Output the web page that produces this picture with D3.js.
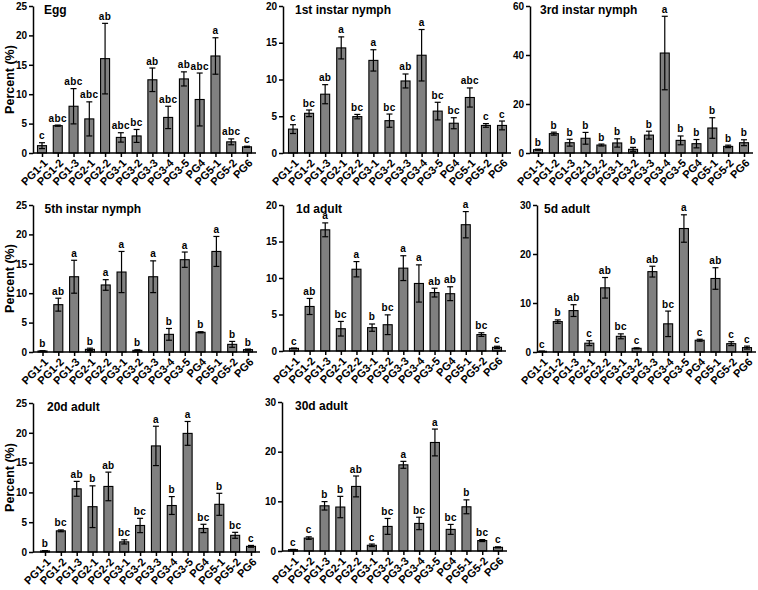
<!DOCTYPE html>
<html>
<head>
<meta charset="utf-8">
<script src="https://cdn.jsdelivr.net/npm/d3@7"></script>
<style>
  html, body { margin: 0; padding: 0; background: #fff; }
  svg { display: block; font-family: "Liberation Sans", Arial, sans-serif; font-weight: bold; }
</style>
</head>
<body>
<svg id="chart" width="758" height="590"></svg>
<script>
const categories = ["PG1-1","PG1-2","PG1-3","PG2-1","PG2-2","PG3-1","PG3-2","PG3-3","PG3-4","PG3-5","PG4","PG5-1","PG5-2","PG6"];

const eggValues  = [1.25, 4.65, 7.95, 5.8, 16.05, 2.65, 2.9, 12.45, 6.05, 12.6, 9.1, 16.5, 1.9, 1.05];
const eggErrors  = [0.5, 0.1, 3.0, 2.9, 6.0, 0.8, 1.1, 2.0, 1.9, 1.2, 4.5, 3.1, 0.5, 0.1];
const eggLetters = ["c","abc","abc","abc","ab","abc","bc","ab","abc","ab","abc","a","abc","c"];

const n1Values  = [3.25, 5.4, 8.0, 14.3, 4.95, 12.6, 4.4, 9.8, 13.3, 5.7, 4.05, 7.55, 3.75, 3.75];
const n1Errors  = [0.6, 0.45, 1.3, 1.5, 0.3, 1.45, 0.9, 0.95, 3.5, 1.2, 0.75, 1.3, 0.25, 0.6];
const n1Letters = ["c","bc","ab","a","bc","a","bc","ab","a","bc","bc","abc","c","c"];

const n3Values  = [1.35, 7.9, 4.2, 6.0, 3.25, 4.1, 1.5, 7.3, 40.8, 5.15, 3.8, 10.2, 2.7, 4.2];
const n3Errors  = [0.2, 0.6, 1.4, 2.4, 0.4, 1.7, 0.8, 1.6, 15.0, 1.8, 1.7, 4.2, 0.5, 1.2];
const n3Letters = ["b","b","b","b","b","b","b","b","a","b","b","b","b","b"];

const n5Values  = [0.17, 8.05, 12.8, 0.45, 11.4, 13.6, 0.28, 12.8, 3.0, 15.7, 3.35, 17.1, 1.3, 0.4];
const n5Errors  = [0.05, 1.1, 2.8, 0.2, 0.9, 3.5, 0.1, 2.7, 1.0, 1.3, 0.1, 2.55, 0.5, 0.1];
const n5Letters = ["b","ab","a","b","a","a","b","a","b","a","b","a","b","b"];

const a1Values  = [0.36, 6.1, 16.6, 3.05, 11.2, 3.2, 3.6, 11.35, 9.25, 8.0, 7.85, 17.3, 2.25, 0.5];
const a1Errors  = [0.05, 1.1, 0.95, 1.0, 1.05, 0.5, 1.35, 1.7, 2.55, 0.6, 0.95, 1.8, 0.25, 0.15];
const a1Letters = ["c","ab","a","bc","a","b","bc","a","a","ab","ab","a","bc","c"];

const a5Values  = [0.14, 6.2, 8.45, 1.8, 13.1, 3.2, 0.75, 16.4, 5.75, 25.2, 2.4, 15.0, 1.7, 0.9];
const a5Errors  = [0.05, 0.35, 1.2, 0.5, 2.1, 0.5, 0.1, 1.1, 2.6, 2.8, 0.2, 2.2, 0.4, 0.3];
const a5Letters = ["c","b","ab","c","ab","bc","c","ab","bc","a","c","ab","c","c"];

const a20Values  = [0.17, 3.55, 10.6, 7.6, 11.0, 1.7, 4.45, 17.8, 7.8, 19.9, 3.95, 8.0, 2.8, 0.95];
const a20Errors  = [0.05, 0.15, 1.25, 3.5, 2.4, 0.35, 1.2, 3.3, 1.5, 2.0, 0.7, 1.85, 0.5, 0.15];
const a20Letters = ["b","bc","ab","b","ab","bc","bc","a","b","a","bc","b","bc","c"];

const a30Values  = [0.27, 2.6, 9.1, 8.85, 13.0, 1.15, 4.95, 17.35, 5.55, 21.85, 4.35, 8.9, 2.1, 0.74];
const a30Errors  = [0.05, 0.25, 0.85, 2.15, 2.1, 0.25, 1.6, 0.7, 1.25, 2.7, 1.0, 1.4, 0.2, 0.1];
const a30Letters = ["c","c","b","b","ab","c","bc","a","bc","a","bc","b","bc","c"];

const panelTitles = ["Egg","1st instar nymph","3rd instar nymph","5th instar nymph","1d adult","5d adult","20d adult","30d adult"];
const yTicks = [
  [0,5,10,15,20,25],
  [0,5,10,15,20],
  [0,20,40,60],
  [0,5,10,15,20,25],
  [0,5,10,15,20],
  [0,10,20,30],
  [0,5,10,15,20,25],
  [0,10,20,30]
];
const yLabel = "Percent (%)";

const seriesValues  = [eggValues, n1Values, n3Values, n5Values, a1Values, a5Values, a20Values, a30Values];
const seriesErrors  = [eggErrors, n1Errors, n3Errors, n5Errors, a1Errors, a5Errors, a20Errors, a30Errors];
const seriesLetters = [eggLetters, n1Letters, n3Letters, n5Letters, a1Letters, a5Letters, a20Letters, a30Letters];

// layout: [axisLeft, firstCenter, lastCenter, top, bottom]
const layout = [
  [33, 42, 247, 6, 153],
  [283, 293, 502, 6, 153],
  [530, 538, 744, 6, 153],
  [33, 42.5, 248, 205, 352],
  [283, 294, 497, 205, 351],
  [537, 542, 747, 205, 352],
  [33, 45, 251, 403, 552],
  [282, 293, 498, 402, 551]
];

const svg = d3.select("#chart");
const barW = 9;
const FONT = "'Liberation Sans', Arial, sans-serif";

panelTitles.forEach((title, i) => {
  const [left, x0, x1, top, bottom] = layout[i];
  const vals = seriesValues[i], errs = seriesErrors[i], lets = seriesLetters[i];
  const tks = yTicks[i];
  const g = svg.append("g");

  const x = d3.scalePoint().domain(categories).range([x0, x1]);
  const y = d3.scaleLinear().domain([0, tks[tks.length - 1]]).range([bottom, top]);

  // bars
  g.selectAll("rect.bar").data(categories).enter().append("rect")
    .attr("x", (d) => x(d) - barW / 2)
    .attr("y", (d, j) => y(vals[j]))
    .attr("width", barW)
    .attr("height", (d, j) => y(0) - y(vals[j]))
    .attr("fill", "#808080")
    .attr("stroke", "#000")
    .attr("stroke-width", 1.1);

  // error bars
  const eb = g.selectAll("g.err").data(categories).enter().append("g")
    .attr("stroke", "#000").attr("stroke-width", 1.2);
  eb.append("line")
    .attr("x1", d => x(d)).attr("x2", d => x(d))
    .attr("y1", (d, j) => y(Math.max(0, vals[j] - errs[j])))
    .attr("y2", (d, j) => y(vals[j] + errs[j]));
  eb.append("line")
    .attr("x1", d => x(d) - 3).attr("x2", d => x(d) + 3)
    .attr("y1", (d, j) => y(vals[j] + errs[j]))
    .attr("y2", (d, j) => y(vals[j] + errs[j]));
  eb.append("line")
    .attr("x1", d => x(d) - 3).attr("x2", d => x(d) + 3)
    .attr("y1", (d, j) => y(Math.max(0, vals[j] - errs[j])))
    .attr("y2", (d, j) => y(Math.max(0, vals[j] - errs[j])));

  // significance letters
  g.selectAll("text.sig").data(categories).enter().append("text")
    .attr("x", d => x(d))
    .attr("y", (d, j) => y(vals[j] + errs[j]) - 3.5)
    .attr("text-anchor", "middle")
    .attr("font-size", 10)
    .attr("letter-spacing", 0.4)
    .text((d, j) => lets[j]);

  // y axis
  const ya = g.append("g").attr("transform", `translate(${left},0)`)
    .call(d3.axisLeft(y).tickValues(tks).tickSize(4).tickPadding(2).tickSizeOuter(0));
  ya.select(".domain").attr("stroke-width", 1.5);
  ya.selectAll(".tick line").attr("stroke-width", 1.5);
  ya.selectAll(".tick text").attr("font-size", 10).attr("font-weight", "bold")
    .attr("font-family", FONT);

  // x axis
  const xa = g.append("g").attr("transform", `translate(0,${bottom})`)
    .call(d3.axisBottom(x).tickSize(4).tickSizeOuter(0).tickPadding(2));
  xa.select(".domain").remove();
  xa.append("line").attr("x1", left).attr("x2", x1 + 9).attr("y1", 0).attr("y2", 0)
    .attr("stroke", "#000").attr("stroke-width", 1.5);
  xa.selectAll(".tick line").attr("stroke-width", 1.5);
  xa.selectAll(".tick text")
    .attr("font-size", 11).attr("font-weight", "bold")
    .attr("font-family", FONT)
    .attr("text-anchor", "end")
    .attr("x", 0).attr("y", 0)
    .attr("dy", "0.35em")
    .attr("transform", "translate(3,8) rotate(-45)");

  // title
  g.append("text").attr("x", x0 + 2).attr("y", top + 8)
    .attr("font-size", 12).text(title);

  // y label for first column
  if (left < 100) {
    g.append("text")
      .attr("transform", `translate(14,${(top + bottom) / 2}) rotate(-90)`)
      .attr("text-anchor", "middle")
      .attr("font-size", 12.5)
      .text(yLabel);
  }
});
</script>
</body>
</html>
